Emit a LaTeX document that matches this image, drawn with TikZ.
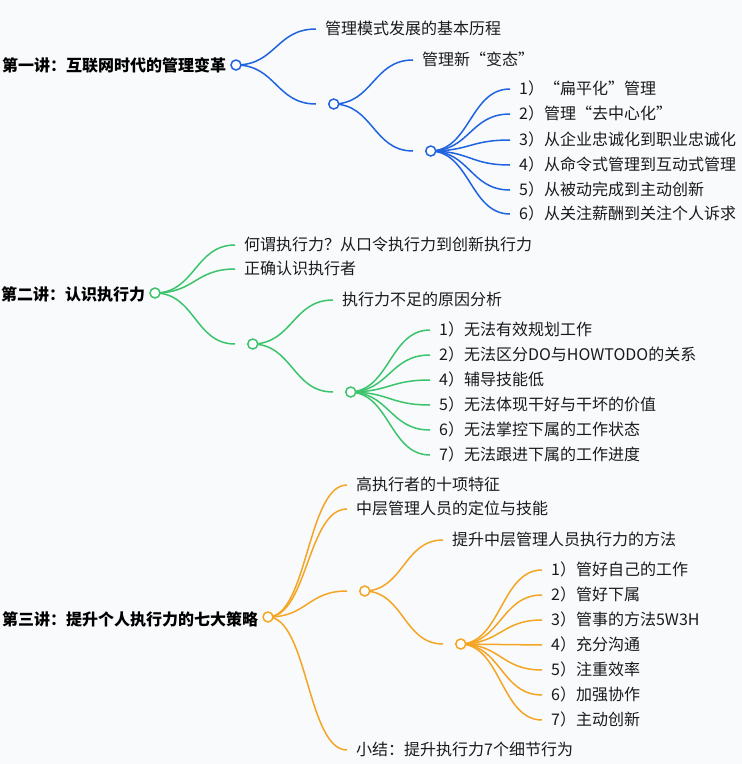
\documentclass[tikz,border=0pt]{standalone}
\usepackage{fontspec}
\newfontfamily\cjk{Noto Sans CJK SC}
\usetikzlibrary{positioning,calc}

\definecolor{bgpaper}{HTML}{F8FAFC}
\definecolor{lecone}{HTML}{1F63DF}
\definecolor{lectwo}{HTML}{3CC46C}
\definecolor{lecthree}{HTML}{F5A524}
\definecolor{inktext}{HTML}{1A1A1A}

% curved branch, horizontal at both ends
\newcommand{\branch}[2]{\draw[link] let \p1=(#1), \p2=(#2) in (\p1) .. controls ({(\x1+\x2)/2},\y1) and ({(\x1+\x2)/2},\y2) .. (\p2);}

\begin{document}
\begin{tikzpicture}[x=1pt,y=-1pt,
  dot/.style={circle,draw=br,fill=white,line width=1.5pt,minimum size=10pt,inner sep=0pt},
  leaf/.style={anchor=west,inner xsep=9pt,inner ysep=0pt,text height=12pt,text depth=2pt,
    text=inktext,font=\cjk\fontsize{16}{16}\selectfont},
  root/.style={inner xsep=4pt,inner ysep=0pt,text height=12pt,text depth=2pt,
    text=black,font=\cjk\bfseries\fontsize{16}{16}\selectfont},
  link/.style={draw=br,line width=1.5pt}]
\fill[bgpaper] (0,0) rectangle (742,764);
\useasboundingbox (0,0) rectangle (742,764);

% lecture one
\colorlet{br}{lecone}
\coordinate (a2) at (316,104);
\coordinate (b2) at (413,151);
\node[leaf] (a1) at (316,29) {管理模式发展的基本历程};
\node[leaf] (b1) at (413,60) {管理新“变态”};
\node[leaf] (c1) at (510,89) {1）“扁平化”管理};
\node[leaf] (c2) at (510,114) {2）管理“去中心化”};
\node[leaf] (c3) at (510,140) {3）从企业忠诚化到职业忠诚化};
\node[leaf] (c4) at (510,165) {4）从命令式管理到互动式管理};
\node[leaf] (c5) at (510,190) {5）从被动完成到主动创新};
\node[leaf] (c6) at (510,214) {6）从关注薪酬到关注个人诉求};
\branch{236,65}{a1.west}
\branch{236,65}{a2}
\branch{333,104}{b1.west}
\branch{333,104}{b2}
\branch{430,151}{c1.west}
\branch{430,151}{c2.west}
\branch{430,151}{c3.west}
\branch{430,151}{c4.west}
\branch{430,151}{c5.west}
\branch{430,151}{c6.west}
\node[dot] (r1) at (236,65) {};
\node[dot, right=12pt of a2] (a2c) {};
\node[dot, right=12pt of b2] (b2c) {};
\node[root, left=0pt of r1, yshift=-1pt] (t1) {第一讲：互联网时代的管理变革};

% lecture two
\colorlet{br}{lectwo}
\coordinate (d3) at (235,344);
\coordinate (e2) at (333,392);
\node[leaf] (d1) at (235,245) {何谓执行力？从口令执行力到创新执行力};
\node[leaf] (d2) at (235,269) {正确认识执行者};
\node[leaf] (e1) at (333,300) {执行力不足的原因分析};
\node[leaf] (f1) at (430,330) {1）无法有效规划工作};
\node[leaf] (f2) at (430,355) {2）无法区分DO与HOWTODO的关系};
\node[leaf] (f3) at (430,380) {4）辅导技能低};
\node[leaf] (f4) at (430,405) {5）无法体现干好与干坏的价值};
\node[leaf] (f5) at (430,430) {6）无法掌控下属的工作状态};
\node[leaf] (f6) at (430,455) {7）无法跟进下属的工作进度};
\branch{155,293}{d1.west}
\branch{155,293}{d2.west}
\branch{155,293}{d3}
\branch{252,344}{e1.west}
\branch{252,344}{e2}
\branch{349,392}{f1.west}
\branch{349,392}{f2.west}
\branch{349,392}{f3.west}
\branch{349,392}{f4.west}
\branch{349,392}{f5.west}
\branch{349,392}{f6.west}
\node[dot] (r2) at (155,293) {};
\node[dot, right=12pt of d3] (d3c) {};
\node[dot, right=12pt of e2] (e2c) {};
\node[root, left=0pt of r2, yshift=-2pt] (t2) {第二讲：认识执行力};

% lecture three
\colorlet{br}{lecthree}
\coordinate (g3) at (347,591);
\coordinate (h2) at (443,644);
\node[leaf] (g1) at (347,485) {高执行者的十项特征};
\node[leaf] (g2) at (347,509) {中层管理人员的定位与技能};
\node[leaf] (g4) at (347,750) {小结：提升执行力7个细节行为};
\node[leaf] (h1) at (443,540) {提升中层管理人员执行力的方法};
\node[leaf] (k1) at (542,570) {1）管好自己的工作};
\node[leaf] (k2) at (542,595) {2）管好下属};
\node[leaf] (k3) at (542,620) {3）管事的方法5W3H};
\node[leaf] (k4) at (542,645) {4）充分沟通};
\node[leaf] (k5) at (542,670) {5）注重效率};
\node[leaf] (k6) at (542,695) {6）加强协作};
\node[leaf] (k7) at (542,720) {7）主动创新};
\branch{268,617}{g1.west}
\branch{268,617}{g2.west}
\branch{268,617}{g3}
\branch{268,617}{g4.west}
\branch{364,591}{h1.west}
\branch{364,591}{h2}
\branch{460,644}{k1.west}
\branch{460,644}{k2.west}
\branch{460,644}{k3.west}
\branch{460,644}{k4.west}
\branch{460,644}{k5.west}
\branch{460,644}{k6.west}
\branch{460,644}{k7.west}
\node[dot] (r3) at (268,617) {};
\node[dot, right=12pt of g3] (g3c) {};
\node[dot, right=12pt of h2] (h2c) {};
\node[root, left=0pt of r3, yshift=-3pt] (t3) {第三讲：提升个人执行力的七大策略};
\end{tikzpicture}
\end{document}
